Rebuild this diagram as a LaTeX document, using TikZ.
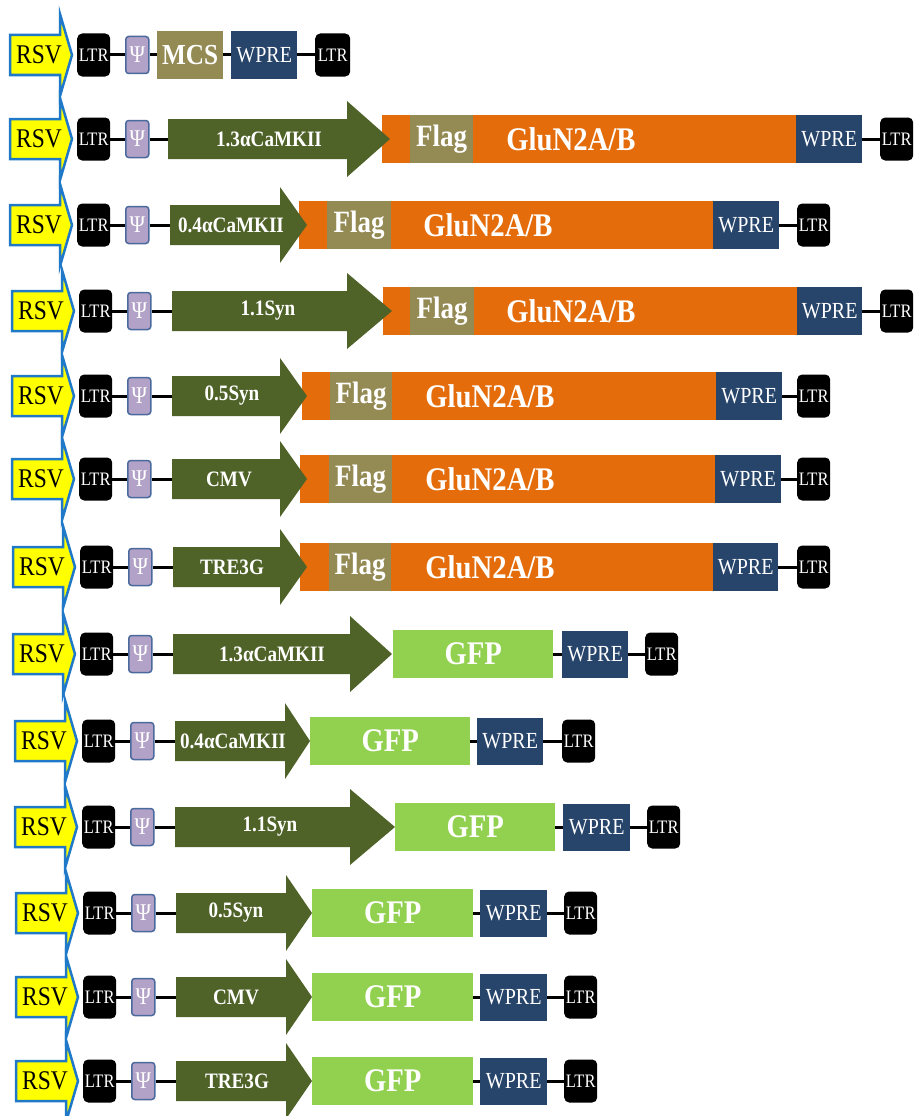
\documentclass[tikz,border=0pt]{standalone}
\usepackage{fontspec}
\setmainfont{Liberation Serif}
\newcommand{\sq}[1]{\scalebox{0.87}[1]{#1}}
\definecolor{rsvyellow}{HTML}{FFFF00}
\definecolor{rsvblue}{HTML}{1F78C8}
\definecolor{psifill}{HTML}{B3A2C7}
\definecolor{psiborder}{HTML}{4A6A9E}
\definecolor{khaki}{HTML}{948A54}
\definecolor{navy}{HTML}{27446A}
\definecolor{promc}{HTML}{4F6228}
\definecolor{orangec}{HTML}{E46C0A}
\definecolor{gfpc}{HTML}{92D050}
\tikzset{
 conn/.style={line width=3pt, black},
 rsvshape/.style={fill=rsvyellow, draw=rsvblue, line width=2.5pt, line join=miter},
 rsvtext/.style={font=\fontsize{27}{27}\selectfont, text=black, inner sep=0pt},
 ltrbox/.style={fill=black, rounded corners=5pt, minimum width=33pt, minimum height=43pt, inner sep=0pt, text=white, font=\fontsize{19}{19}\selectfont},
 psibox/.style={fill=psifill, draw=psiborder, line width=1.5pt, rounded corners=3pt, minimum width=23pt, minimum height=37pt, inner sep=0pt, text=white, font=\fontsize{24}{24}\selectfont},
 wprebox/.style={fill=navy, minimum height=47pt, inner sep=0pt, text=white, font=\fontsize{23}{23}\selectfont},
 mcsbox/.style={fill=khaki, minimum height=47pt, inner sep=0pt, text=white, font=\bfseries\fontsize{29}{29}\selectfont},
 orbox/.style={fill=orangec, minimum height=48pt, inner sep=0pt},
 flagbox/.style={fill=khaki, minimum height=48pt, inner sep=0pt, text=white, font=\bfseries\fontsize{31}{31}\selectfont},
 glutext/.style={text=white, font=\bfseries\fontsize{33}{33}\selectfont, inner sep=0pt},
 gfpbox/.style={fill=gfpc, minimum height=48pt, inner sep=0pt, text=white, font=\bfseries\fontsize{33}{33}\selectfont},
 promfill/.style={fill=promc},
 promtext/.style={text=white, font=\bfseries\fontsize{22}{22}\selectfont, inner sep=0pt},
}
% #1 row name, #2 y, #3 dx
\newcommand{\leftpart}[3]{%
 \draw[rsvshape] (10+#3,#2-20) -- (60+#3,#2-20) -- (60+#3,#2-41) -- (72+#3,#2) -- (60+#3,#2+41) -- (60+#3,#2+20) -- (10+#3,#2+20) -- cycle;
 \node[rsvtext] (rsv#1) at (39+#3,#2) {\sq{RSV}};
 \node[ltrbox, anchor=west] (ltrL#1) at (77+#3,#2) {\sq{LTR}};
 \node[psibox, anchor=west] (psi#1) at (125+#3,#2) {\sq{Ψ}};
 \draw[conn] (ltrL#1) -- (psi#1);
}
% #1 name, #2 y, #3 x0, #4 head base, #5 tip, #6 label, #7 label x
\newcommand{\promoter}[7]{%
 \coordinate (pro#1) at (#3,#2);
 \fill[promfill] (#3,#2-20) -- (#4,#2-20) -- (#4,#2-38) -- (#5,#2) -- (#4,#2+38) -- (#4,#2+20) -- (#3,#2+20) -- cycle;
 \node[promtext] (prolab#1) at (#7,#2) {\sq{#6}};
 \draw[conn] (psi#1.east) -- (pro#1);
}
% #1 name, #2 y, #3 orange x0, #4 flag x0, #5 flag x1, #6 text x, #7 wpre x0, #8 wpre x1, #9 ltr x0
\newcommand{\glurow}[9]{%
 \node[orbox, anchor=west, minimum width=#7pt-#3pt] (or#1) at (#3,#2) {};
 \node[flagbox, anchor=west, minimum width=#5pt-#4pt] (flag#1) at (#4,#2) {\sq{Flag}};
 \node[glutext] (glu#1) at (#6,#2) {\sq{GluN2A/B}};
 \node[wprebox, anchor=west, minimum height=48pt, minimum width=#8pt-#7pt] (wpre#1) at (#7,#2) {\sq{WPRE}};
 \node[ltrbox, anchor=west] (ltrR#1) at (#9,#2) {\sq{LTR}};
 \draw[conn] (wpre#1) -- (ltrR#1);
}
% #1 name, #2 y, #3 gfp x0, #4 gfp x1, #5 wpre x0, #6 wpre x1, #7 ltr x0
\newcommand{\gfprow}[7]{%
 \node[gfpbox, anchor=west, minimum width=#4pt-#3pt] (gfp#1) at (#3,#2) {\sq{GFP}};
 \node[wprebox, anchor=west, minimum width=#6pt-#5pt] (wpre#1) at (#5,#2) {\sq{WPRE}};
 \node[ltrbox, anchor=west] (ltrR#1) at (#7,#2) {\sq{LTR}};
 \draw[conn] (gfp#1) -- (wpre#1);
 \draw[conn] (wpre#1) -- (ltrR#1);
}
\begin{document}
\begin{tikzpicture}[x=1pt,y=-1pt]
\fill[white] (0,0) rectangle (914,1116);
\useasboundingbox (0,0) rectangle (914,1116);
% row 1
\leftpart{1}{55}{0}
\node[mcsbox, anchor=west, minimum width=66pt] (mcs1) at (157,55) {\sq{MCS}};
\node[wprebox, anchor=west, minimum width=66pt] (wpre1) at (231,55) {\sq{WPRE}};
\node[ltrbox, anchor=west, minimum width=35pt] (ltrR1) at (315,55) {\sq{LTR}};
\draw[conn] (psi1) -- (mcs1);
\draw[conn] (mcs1) -- (wpre1);
\draw[conn] (wpre1) -- (ltrR1);
% row 2
\leftpart{2}{139}{0}
\glurow{2}{139}{382}{410}{473}{571}{796}{862}{880}
\promoter{2}{139}{168}{347}{390}{1.3αCaMKII}{269}
% row 3
\leftpart{3}{225}{0}
\glurow{3}{225}{299}{327}{391}{488}{713}{779}{797}
\promoter{3}{225}{170}{280}{307}{0.4αCaMKII}{231}
% row 4
\leftpart{4}{311}{2}
\glurow{4}{311}{383}{410}{474}{571}{797}{862}{880}
\promoter{4}{311}{172}{347}{392}{1.1Syn}{268}
% row 5
\leftpart{5}{396}{2}
\glurow{5}{396}{302}{330}{392}{490}{716}{782}{797}
\promoter{5}{396}{172}{280}{307}{0.5Syn}{232}
% row 6
\leftpart{6}{479}{2}
\glurow{6}{479}{300}{329}{392}{490}{715}{781}{797}
\promoter{6}{479}{172}{280}{307}{CMV}{229}
% row 7
\leftpart{7}{567}{3}
\glurow{7}{567}{300}{329}{391}{490}{713}{778}{797}
\promoter{7}{567}{173}{280}{307}{TRE3G}{232}
% row 8
\leftpart{8}{654}{3}
\gfprow{8}{654}{393}{553}{562}{628}{645}
\promoter{8}{654}{173}{350}{392}{1.3αCaMKII}{272}
% row 9
\leftpart{9}{741}{5}
\gfprow{9}{741}{310}{470}{477}{543}{562}
\promoter{9}{741}{175}{285}{310}{0.4αCaMKII}{233}
% row 10
\leftpart{10}{827}{5}
\gfprow{10}{827}{395}{555}{563}{630}{647}
\promoter{10}{827}{175}{350}{395}{1.1Syn}{270}
% row 11
\leftpart{11}{913}{6}
\gfprow{11}{913}{312}{473}{480}{547}{564}
\promoter{11}{913}{176}{286}{312}{0.5Syn}{236}
% row 12
\leftpart{12}{997}{6}
\gfprow{12}{997}{312}{473}{480}{547}{564}
\promoter{12}{997}{176}{286}{312}{CMV}{236}
% row 13
\leftpart{13}{1081}{6}
\gfprow{13}{1081}{312}{473}{480}{547}{564}
\promoter{13}{1081}{176}{286}{312}{TRE3G}{237}
\end{tikzpicture}
\end{document}
